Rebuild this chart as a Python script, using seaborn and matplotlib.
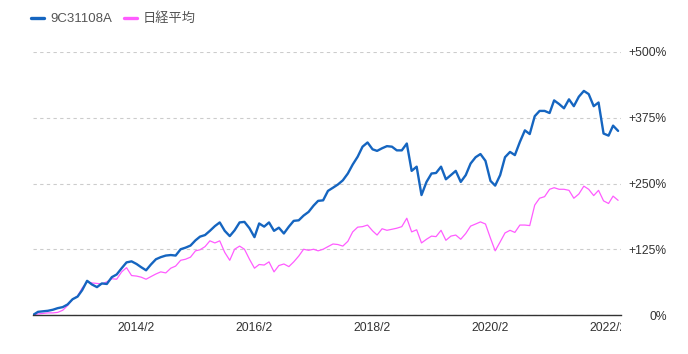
import matplotlib
matplotlib.use("Agg")
import matplotlib.pyplot as plt
from matplotlib.lines import Line2D
from matplotlib.transforms import Bbox, TransformedBbox
import numpy as np
import pandas as pd
import seaborn as sns

sns.set_theme(style="white")
plt.rcParams['font.family'] = ['Liberation Sans', 'Noto Sans CJK JP', 'DejaVu Sans']

# monthly points, May 2012 - Apr 2022 (cumulative return, %)
dates = pd.date_range('2012-05-01', periods=120, freq='MS')
fund_name = '9C31108A'
index_name = '日経平均'
fund = [0, 6, 7, 8, 10, 13, 15, 20, 30, 35,
        47, 65, 58, 53, 60, 59, 72, 77, 89, 100,
        102, 97, 91, 85, 96, 106, 110, 113, 114, 113,
        125, 128, 132, 142, 149, 152, 160, 169, 176, 160,
        150, 161, 176, 177, 165, 148, 174, 168, 176, 160,
        166, 155, 168, 179, 180, 189, 196, 208, 217, 218,
        236, 242, 248, 256, 269, 286, 301, 320, 328, 315,
        312, 317, 321, 320, 313, 313, 326, 274, 282, 228,
        253, 269, 270, 282, 258, 266, 274, 253, 266, 288,
        300, 306, 293, 255, 246, 266, 300, 310, 304, 329,
        351, 344, 378, 388, 388, 384, 408, 401, 393, 410,
        397, 415, 426, 420, 397, 404, 345, 341, 360, 350]
nikkei = [0, 2, 3, 4, 4, 5, 9, 18, 30, 36,
          51, 63, 61, 60, 59, 63, 69, 68, 82, 90,
          75, 74, 72, 68, 73, 78, 82, 80, 89, 93,
          104, 106, 110, 122, 124, 130, 141, 137, 141, 119,
          104, 125, 131, 125, 106, 89, 96, 95, 101, 82,
          94, 97, 92, 101, 112, 125, 123, 125, 122, 125,
          130, 135, 134, 131, 140, 158, 167, 168, 171, 160,
          152, 164, 161, 163, 165, 168, 184, 158, 162, 137,
          144, 150, 149, 161, 142, 150, 152, 144, 155, 169,
          173, 177, 173, 146, 122, 139, 156, 161, 157, 171,
          171, 170, 209, 222, 225, 239, 242, 239, 239, 237,
          222, 230, 245, 239, 227, 237, 217, 212, 226, 218]
y_ticks = [0, 125, 250, 375, 500]
y_labels = ['0%', '+125%', '+250%', '+375%', '+500%']
x_ticks = ['2014-02-01', '2016-02-01', '2018-02-01', '2020-02-01', '2022-02-01']
x_labels = ['2014/2', '2016/2', '2018/2', '2020/2', '2022/2']

blue = '#1565c0'
pink = '#ff5cff'

df = pd.DataFrame({'date': dates, 'fund': fund, 'nikkei': nikkei})

fig = plt.figure(figsize=(6.88, 3.54), dpi=100)
ax = fig.add_axes([33 / 688, 1 - 315 / 354, (621 - 33) / 688, (315 - 52) / 354])

sns.lineplot(data=df, x='date', y='nikkei', color=pink, linewidth=0.9, ax=ax)
sns.lineplot(data=df, x='date', y='fund', color=blue, linewidth=1.7, ax=ax)

ax.set_xlim(pd.Timestamp('2012-05-01'), pd.Timestamp('2022-04-19'))
ax.set_ylim(0, 500)
ax.set_xlabel('')
ax.set_ylabel('')

ax.yaxis.tick_right()
ax.set_yticks(y_ticks)
ax.set_yticklabels(y_labels)
ax.tick_params(axis='y', length=0, pad=33, labelsize=8.7, labelcolor='#333333')
for lab in ax.get_yticklabels():
    lab.set_horizontalalignment('right')

ax.set_xticks(pd.to_datetime(x_ticks))
ax.set_xticklabels(x_labels)
ax.tick_params(axis='x', length=0, pad=5, labelsize=8.7, labelcolor='#333333')
clip = TransformedBbox(Bbox([[0, -1], [1, 1]]), ax.transAxes)
for t in ax.xaxis.get_major_ticks():
    t.label1.set_clip_box(clip)
    t.label1.set_clip_on(True)

ax.grid(axis='y', color='#cccccc', linestyle=(0, (3, 3)), linewidth=0.8)
ax.grid(axis='x', visible=False)
for s in ['top', 'left', 'right']:
    ax.spines[s].set_visible(False)
ax.spines['bottom'].set_color('#333333')
ax.spines['bottom'].set_linewidth(1.0)

handles = [Line2D([], [], color=blue, linewidth=2.4),
           Line2D([], [], color=pink, linewidth=2.4)]
fig.legend(handles, [fund_name, index_name], loc='center left',
           bbox_to_anchor=(31 / 688, 1 - 19 / 354), ncol=2, frameon=False,
           fontsize=9.5, labelcolor='#555555', handlelength=1.0,
           handletextpad=0.45, columnspacing=0.9, borderpad=0, borderaxespad=0)

fig.savefig('out.png', dpi=100)
